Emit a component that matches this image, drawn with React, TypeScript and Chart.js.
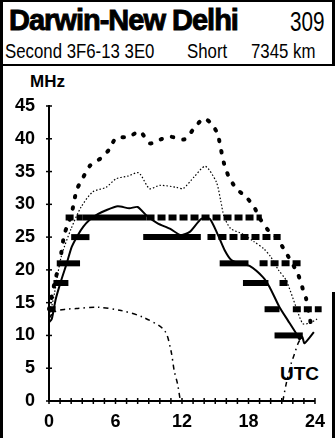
import React, { useEffect, useRef } from "react";
import { Chart, registerables } from "chart.js";

Chart.register(...registerables);

// ---------- texts ----------
const TITLE = "Darwin-New Delhi";
const CIRCUIT_NO = "309";
const SUB_MODE = "Second 3F6-13 3E0";
const SUB_PATH = "Short";
const SUB_DIST = "7345 km";
const Y_UNIT = "MHz";
const X_UNIT = "UTC";

// ---------- axes ----------
const yTickValues = [0, 5, 10, 15, 20, 25, 30, 35, 40, 45];
const xLabelHours = [0, 6, 12, 18, 24];

// ---------- series ----------
// solid curve
const mufHours = [0, 0.25, 0.6, 1.1, 1.6, 2.05, 2.6, 3.1, 3.65, 4.4, 5.15, 6.2, 7.25, 8.0, 8.8, 9.8, 10.9, 11.9, 12.7, 13.75, 14.5, 15.2, 15.85, 16.45, 17.2, 18.1, 19.3, 19.9, 20.8, 21.55, 22.3, 22.6, 22.85, 23.05, 23.9];
const mufValues = [12, 12.5, 15.5, 18.4, 21, 23.5, 25.3, 26.6, 27.6, 28.5, 29.1, 29.7, 29.4, 29.6, 28.3, 27.1, 26.3, 25.3, 25.8, 27.8, 27.8, 25.5, 23.0, 21.5, 21.0, 20.6, 18.9, 17.4, 14.3, 12.3, 10.3, 9.4, 9.8, 8.8, 10.5];

// heavy dotted upper curve
const upperHours = [0, 0.5, 1.0, 1.4, 2.0, 2.5, 3.05, 3.7, 4.65, 5.4, 6.05, 7.2, 8.2, 9.1, 10.06, 11.0, 12.2, 13.1, 13.95, 14.6, 15.2, 15.5, 15.8, 16.2, 16.9, 17.8, 18.5, 19.05, 19.75, 20.5, 21.25, 22.45, 22.9, 23.2, 23.6];
const upperValues = [14, 18, 21.5, 25.5, 28.3, 32.2, 34, 35.9, 37, 38.3, 40.1, 40.3, 41.1, 39.3, 39.9, 40.3, 39.9, 41.6, 43.1, 42.4, 40.8, 38.5, 36.2, 34.3, 32.4, 31.1, 29.6, 27.8, 26.1, 25, 23, 19.4, 17.1, 15.6, 12];

// fine dotted middle curve
const midHours = [0, 0.5, 1.1, 2.0, 2.9, 3.95, 5.15, 6.05, 7.1, 8.1, 9.07, 10.0, 11.5, 12.1, 13.1, 14.1, 15.1, 15.5, 15.8, 16.4, 17.45, 18.5, 19.4, 20.0, 20.7, 21.4, 22.3, 22.9, 23.5, 24.2];
const midValues = [12.5, 16.5, 22, 26.3, 29.6, 31.9, 32.6, 33.9, 34.3, 34.8, 32.4, 32.9, 32.6, 32.4, 34.2, 35.8, 33.4, 30.5, 28.1, 26.3, 25.5, 24.3, 23.2, 22, 20, 18.4, 14.3, 11.8, 11.9, 12.5];

// dash-dot lower curve (two parts)
const lowHoursA = [0, 0.5, 1.5, 2.45, 4.4, 6.5, 8.45, 10.4, 11.0, 11.3, 11.6, 11.85];
const lowValuesA = [12.6, 13.6, 14.0, 14.1, 14.3, 13.8, 12.8, 10.8, 7.7, 4.6, 2.6, 0];
const lowHoursB = [21.1, 21.4, 21.85, 22.15, 22.45, 22.7];
const lowValuesB = [0, 2.6, 5.7, 7.2, 8.7, 9.5];

// band markers
const bandFreqs = [28, 28, 28, 25, 25, 25, 21, 21, 21, 18, 18, 18, 14, 14, 14, 10];
const bandStarts = [1.5, 3.0, 8.8, 2.0, 8.5, 14.3, 0.7, 15.4, 19.0, 0.4, 17.5, 20.8, 0, 19.45, 22.0, 20.35];
const bandEnds = [3.0, 8.8, 19.2, 3.65, 13.7, 20.9, 2.8, 18.0, 22.9, 1.75, 19.8, 21.6, 0.6, 20.8, 24.6, 22.9];
const bandSolid = [false, true, false, true, true, false, true, true, false, true, true, false, true, true, false, true];

const FONT = "'Liberation Sans', Arial, Helvetica, sans-serif";

function pts(xs: number[], ys: number[]) {
  return xs.map((x, i) => ({ x, y: ys[i] }));
}

const crossTicks = {
  id: "crossTicks",
  afterDatasetsDraw(chart: any) {
    const { ctx, scales } = chart;
    const x = scales.x;
    const y = scales.y;
    const axisY = y.getPixelForValue(0);
    const axisX = x.getPixelForValue(0);
    ctx.save();
    ctx.strokeStyle = "#000";
    ctx.lineWidth = 1.5;
    x.ticks.forEach((t: any) => {
      const px = x.getPixelForValue(t.value);
      ctx.beginPath();
      ctx.moveTo(px, axisY - 3);
      ctx.lineTo(px, axisY + 3);
      ctx.stroke();
    });
    y.ticks.forEach((t: any) => {
      const py = y.getPixelForValue(t.value);
      ctx.beginPath();
      ctx.moveTo(axisX - 3, py);
      ctx.lineTo(axisX + 3, py);
      ctx.stroke();
    });
    ctx.restore();
  },
};

export default function App() {
  const ref = useRef<HTMLCanvasElement | null>(null);

  useEffect(() => {
    if (!ref.current) return;
    const base = { borderColor: "#000", pointRadius: 0, fill: false, clip: false as any };
    const bandSets = bandFreqs.map((f, i) => ({
      ...base,
      data: [
        { x: bandStarts[i], y: f },
        { x: bandEnds[i], y: f },
      ],
      borderWidth: 6,
      borderDash: bandSolid[i] ? [] : [8, 3],
      borderCapStyle: "butt",
      tension: 0,
    }));
    const chart = new Chart(ref.current, {
      type: "line",
      data: {
        datasets: [
          { ...base, data: pts(upperHours, upperValues), borderWidth: 4, borderDash: [1.5, 10], borderCapStyle: "round", tension: 0.25 },
          { ...base, data: pts(midHours, midValues), borderWidth: 1.2, borderDash: [1.5, 2], tension: 0.25 },
          { ...base, data: pts(mufHours, mufValues), borderWidth: 2, tension: 0.2 },
          { ...base, data: pts(lowHoursA, lowValuesA), borderWidth: 1.5, borderDash: [5, 4, 1.5, 4], tension: 0.3 },
          { ...base, data: pts(lowHoursB, lowValuesB), borderWidth: 1.5, borderDash: [5, 4, 1.5, 4], tension: 0.3 },
          ...bandSets,
        ] as any,
      },
      options: {
        animation: false,
        responsive: false,
        maintainAspectRatio: false,
        layout: { padding: { left: 0, right: 19, top: 106, bottom: 7 } },
        plugins: { legend: { display: false }, tooltip: { enabled: false }, title: { display: false } },
        scales: {
          x: {
            type: "linear",
            min: 0,
            max: 24,
            afterFit: (s: any) => {
              s.height = 30;
            },
            border: { display: true, color: "#000", width: 2 },
            grid: { display: true, drawOnChartArea: false, drawTicks: false },
            afterBuildTicks: (s: any) => {
              const t = [];
              for (let h = 0; h <= 24; h++) t.push({ value: h });
              s.ticks = t;
            },
            ticks: {
              autoSkip: false,
              maxRotation: 0,
              padding: 10,
              color: "#000",
              font: { family: FONT, size: 18, weight: "bold" },
              callback: (v: any) => (xLabelHours.includes(Number(v)) ? String(v) : ""),
            },
          },
          y: {
            type: "linear",
            min: 0,
            max: 45,
            afterFit: (s: any) => {
              s.width = 49;
            },
            afterBuildTicks: (s: any) => {
              s.ticks = yTickValues.map((v) => ({ value: v }));
            },
            border: { display: true, color: "#000", width: 2 },
            grid: { display: true, drawOnChartArea: false, drawTicks: false },
            ticks: {
              padding: 14,
              color: "#000",
              font: { family: FONT, size: 18, weight: "bold" },
              callback: (v: any) => String(v),
            },
          },
        },
      },
      plugins: [crossTicks],
    } as any);
    return () => chart.destroy();
  }, []);

  const abs = (s: React.CSSProperties): React.CSSProperties => ({ position: "absolute", ...s });
  const black = "#000";

  return (
    <div style={abs({ left: 0, top: 0, width: 335, height: 438, background: "#fff", overflow: "hidden", fontFamily: FONT, color: black })}>
      {/* frame */}
      <div style={abs({ left: 0, top: 0, width: 335, height: 2, background: black })} />
      <div style={abs({ left: 0, top: 0, width: 3, height: 438, background: black })} />
      <div style={abs({ left: 332, top: 0, width: 3, height: 66, background: black })} />
      <div style={abs({ left: 0, top: 64, width: 335, height: 2, background: black })} />
      <div style={abs({ left: 332, top: 292, width: 3, height: 146, background: black })} />

      {/* header */}
      <div style={abs({ left: 9, top: 6, fontSize: 29, fontWeight: "bold", lineHeight: 1, letterSpacing: -1, whiteSpace: "nowrap", WebkitTextStroke: "0.9px #000" })}>{TITLE}</div>
      <div style={abs({ left: 290, top: 8, fontSize: 28, lineHeight: 1, whiteSpace: "nowrap", transform: "scaleX(0.74)", transformOrigin: "left top" })}>{CIRCUIT_NO}</div>
      <div style={abs({ left: 5, top: 40, fontSize: 21, lineHeight: 1, whiteSpace: "nowrap", transform: "scaleX(0.8)", transformOrigin: "left top" })}>{SUB_MODE}</div>
      <div style={abs({ left: 187, top: 40, fontSize: 21, lineHeight: 1, whiteSpace: "nowrap", transform: "scaleX(0.8)", transformOrigin: "left top" })}>{SUB_PATH}</div>
      <div style={abs({ left: 251, top: 40, fontSize: 21, lineHeight: 1, whiteSpace: "nowrap", transform: "scaleX(0.8)", transformOrigin: "left top" })}>{SUB_DIST}</div>

      {/* units */}
      <div style={abs({ left: 30, top: 73, fontSize: 17, fontWeight: "bold", lineHeight: 1 })}>{Y_UNIT}</div>
      <div style={abs({ left: 280, top: 364, fontSize: 19, fontWeight: "bold", lineHeight: 1 })}>{X_UNIT}</div>

      <canvas ref={ref} width={335} height={438} style={abs({ left: 0, top: 0, width: 335, height: 438 })} />
    </div>
  );
}
